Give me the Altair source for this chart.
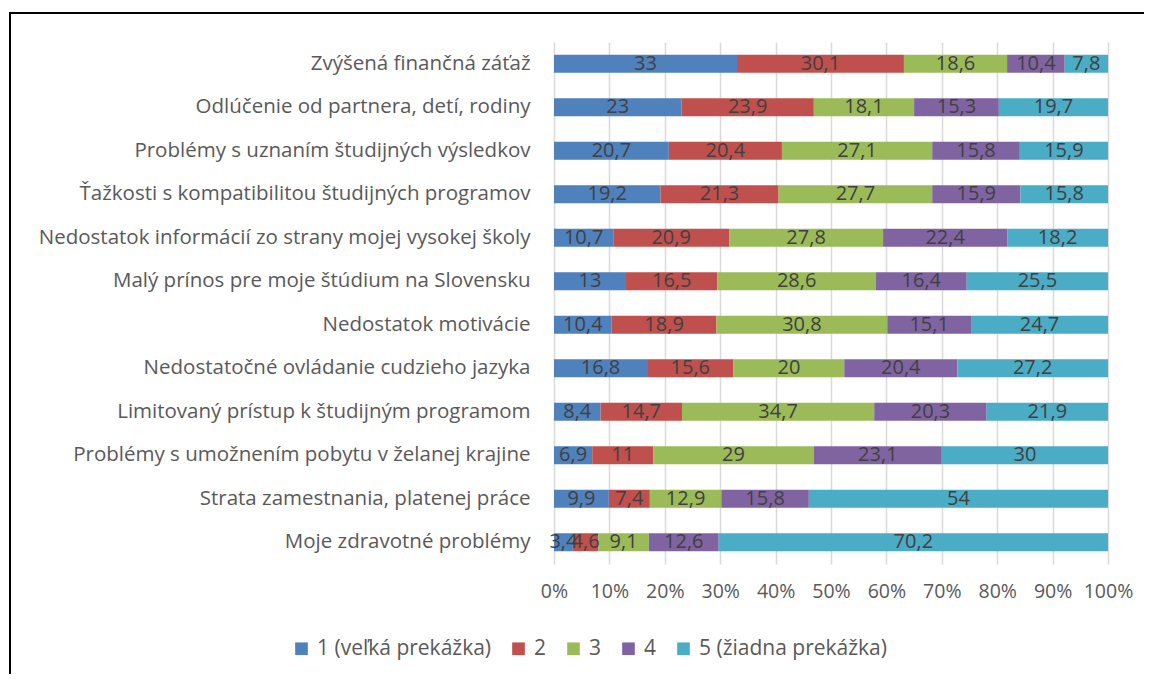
import altair as alt
import pandas as pd

categories = [
    "Zvýšená finančná záťaž",
    "Odlúčenie od partnera, detí, rodiny",
    "Problémy s uznaním študijných výsledkov",
    "Ťažkosti s kompatibilitou študijných programov",
    "Nedostatok informácií zo strany mojej vysokej školy",
    "Malý prínos pre moje štúdium na Slovensku",
    "Nedostatok motivácie",
    "Nedostatočné ovládanie cudzieho jazyka",
    "Limitovaný prístup k študijným programom",
    "Problémy s umožnením pobytu v želanej krajine",
    "Strata zamestnania, platenej práce",
    "Moje zdravotné problémy",
]
series = ["1 (veľká prekážka)", "2", "3", "4", "5 (žiadna prekážka)"]
s1 = [33, 23, 20.7, 19.2, 10.7, 13, 10.4, 16.8, 8.4, 6.9, 9.9, 3.4]
s2 = [30.1, 23.9, 20.4, 21.3, 20.9, 16.5, 18.9, 15.6, 14.7, 11, 7.4, 4.6]
s3 = [18.6, 18.1, 27.1, 27.7, 27.8, 28.6, 30.8, 20, 34.7, 29, 12.9, 9.1]
s4 = [10.4, 15.3, 15.8, 15.9, 22.4, 16.4, 15.1, 20.4, 20.3, 23.1, 15.8, 12.6]
s5 = [7.8, 19.7, 15.9, 15.8, 18.2, 25.5, 24.7, 27.2, 21.9, 30, 54, 70.2]
colors = ["#4F81BD", "#C0504D", "#9BBB59", "#8064A2", "#4BACC6"]

rows = []
for k, (name, vals) in enumerate(zip(series, [s1, s2, s3, s4, s5])):
    for c, v in zip(categories, vals):
        lbl = (("%g" % v).replace(".", ","))
        rows.append({"cat": c, "series": name, "k": k, "value": v, "label": lbl})
df = pd.DataFrame(rows)

FONT = "Open Sans"

base = alt.Chart(df).transform_stack(
    stack="value", groupby=["cat"], sort=[alt.SortField("k", order="ascending")],
    as_=["x0", "x1"], offset="normalize"
).transform_calculate(mid="(datum.x0 + datum.x1) / 2")

yenc = alt.Y("cat:N", sort=categories, title=None,
             scale=alt.Scale(paddingInner=0, paddingOuter=0),
             axis=alt.Axis(labelFontSize=20.5, labelColor="#595959", labelFont=FONT,
                           labelLimit=700, ticks=False, domain=False, labelPadding=24))

bars = base.mark_bar(size=18).encode(
    x=alt.X("x0:Q", scale=alt.Scale(domain=[0, 1], nice=False), title=None,
            axis=alt.Axis(format="%", values=[i / 10 for i in range(11)],
                          labelFontSize=19.5, labelColor="#595959", labelFont=FONT,
                          labelOverlap=False, labelFlush=False,
                          ticks=False, domain=False, labelPadding=18,
                          gridColor="#D9D9D9", gridWidth=1.5)),
    x2="x1:Q",
    y=yenc,
    color=alt.Color("series:N", sort=series,
                    scale=alt.Scale(domain=series, range=colors),
                    legend=alt.Legend(title=None, orient="none", direction="horizontal",
                                      legendX=-263, legendY=596,
                                      symbolType="square", symbolSize=160,
                                      symbolStrokeWidth=0,
                                      labelFontSize=21, labelColor="#595959",
                                      labelFont=FONT, columnPadding=16,
                                      labelOffset=5, labelLimit=400)),
    order=alt.Order("k:Q"),
)

texts = base.mark_text(fontSize=20, color="#404040", font=FONT).encode(
    x=alt.X("mid:Q"),
    y=alt.Y("cat:N", sort=categories),
    text="label:N",
)

frame_top = alt.Chart(df).mark_rule(color="black", strokeWidth=2).encode(
    x=alt.value(-545), x2=alt.value(700), y=alt.value(-29)
)
frame_left = alt.Chart(df).mark_rule(color="black", strokeWidth=2).encode(
    x=alt.value(-544), y=alt.value(-30), y2=alt.value(700)
)

chart = alt.layer(bars, texts, frame_top, frame_left).properties(
    width=554, height=522,
    autosize=alt.AutoSizeParams(type="none"),
    padding={"left": 546, "top": 34, "right": 36, "bottom": 110},
).configure_view(stroke=None)

chart.save("out.html", embed_options={"renderer": "svg", "actions": False})
